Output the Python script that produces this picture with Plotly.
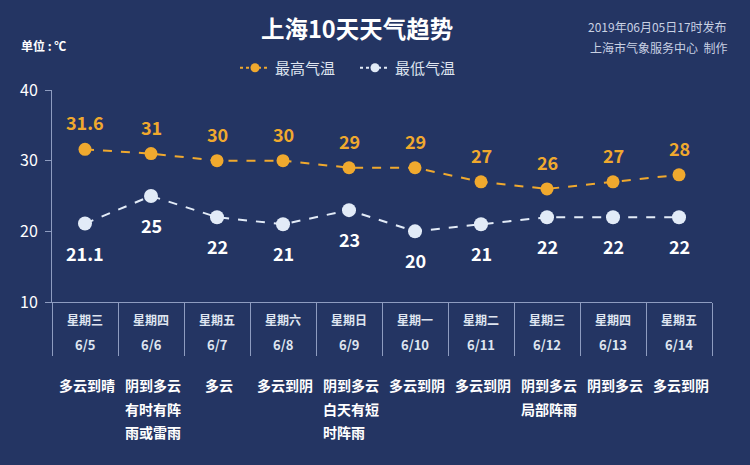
import plotly.graph_objects as go

days = ['星期三', '星期四', '星期五', '星期六', '星期日', '星期一', '星期二', '星期三', '星期四', '星期五']
dates = ['6/5', '6/6', '6/7', '6/8', '6/9', '6/10', '6/11', '6/12', '6/13', '6/14']
weather = ['多云到晴', '阴到多云\n有时有阵\n雨或雷雨', '多云', '多云到阴', '阴到多云\n白天有短\n时阵雨',
           '多云到阴', '多云到阴', '阴到多云\n局部阵雨', '阴到多云', '多云到阴']
high = [31.6, 31, 30, 30, 29, 29, 27, 26, 27, 28]
low = [21.1, 25, 22, 21, 23, 20, 21, 22, 22, 22]
high_lbl = ['31.6', '31', '30', '30', '29', '29', '27', '26', '27', '28']
low_lbl = ['21.1', '25', '22', '21', '23', '20', '21', '22', '22', '22']

BG = '#243563'
ORANGE = '#f0a92e'
PALE = '#e2ebf7'
AXIS = '#8e9cc0'
FONT = 'Noto Sans CJK SC'

# plot area in pixels: x 52..712, y 90..302
def px(xp):
    return (xp - 52) / 660.0

def py(yp):
    return (302 - yp) / 212.0

x = list(range(len(dates)))

fig = go.Figure()
fig.add_trace(go.Scatter(x=x, y=high, name='最高气温', mode='lines+markers', showlegend=False,
                         line=dict(color=ORANGE, width=2, dash='dash'),
                         marker=dict(color=ORANGE, size=13)))
fig.add_trace(go.Scatter(x=x, y=low, name='最低气温', mode='lines+markers', showlegend=False,
                         line=dict(color=PALE, width=2, dash='dash'),
                         marker=dict(color=PALE, size=14)))
# smaller symbols for the legend
for name, col in [('最高气温', ORANGE), ('最低气温', PALE)]:
    fig.add_trace(go.Scatter(x=[None], y=[None], name=name, mode='lines+markers',
                             line=dict(color=col, width=2, dash='dot'),
                             marker=dict(color=col, size=9)))

ann = []
for i in x:
    ann.append(dict(x=i, y=high[i], text='<b>%s</b>' % high_lbl[i], showarrow=False,
                    yshift=27, font=dict(size=18, color=ORANGE)))
    ann.append(dict(x=i, y=low[i], text='<b>%s</b>' % low_lbl[i], showarrow=False,
                    yshift=-29, font=dict(size=18, color='white')))
    ann.append(dict(x=i, y=py(319), yref='paper', yanchor='middle', text='<b>%s</b>' % days[i],
                    showarrow=False, font=dict(size=12, color='#dfe5f0')))
    ann.append(dict(x=i, y=py(344), yref='paper', yanchor='middle', text='<b>%s</b>' % dates[i],
                    showarrow=False, font=dict(size=13, color='#dfe5f0')))
    lines = weather[i].split('\n')
    for k, line in enumerate(lines):
        # lines of a block are left aligned under the first one
        ann.append(dict(x=i, y=py(385 + 23.5 * k), yref='paper', yanchor='middle',
                        xanchor='left', xshift=-len(lines[0]) * 14 / 2,
                        text='<b>%s</b>' % line, showarrow=False,
                        font=dict(size=14, color='white')))

ann.append(dict(x=px(357), y=py(28), xref='paper', yref='paper', yanchor='middle',
                text='<b>上海10天天气趋势</b>', showarrow=False, font=dict(size=23.5, color='white')))
ann.append(dict(x=px(19), y=py(45), xref='paper', yref='paper', xanchor='left', yanchor='middle',
                text='<b>单位 : ℃</b>', showarrow=False, font=dict(size=12, color='white')))
ann.append(dict(x=px(729), y=py(27), xref='paper', yref='paper', xanchor='right', yanchor='middle',
                text='2019年06月05日17时发布', showarrow=False, font=dict(size=12, color='#c9d1e3')))
ann.append(dict(x=px(729), y=py(48), xref='paper', yref='paper', xanchor='right', yanchor='middle',
                text='上海市气象服务中心  制作', showarrow=False, font=dict(size=12, color='#c9d1e3')))

fig.update_layout(
    width=750, height=465,
    paper_bgcolor=BG, plot_bgcolor=BG,
    margin=dict(l=52, r=38, t=90, b=163),
    font=dict(family=FONT, color='white'),
    annotations=ann,
    legend=dict(orientation='h', x=px(355), xanchor='center', y=py(68), yanchor='middle',
                font=dict(size=15, color='#dfe5f0'), bgcolor='rgba(0,0,0,0)',
                itemwidth=30, entrywidth=75),
)
fig.update_xaxes(range=[-0.5, 9.5], tickvals=[i - 0.5 for i in range(11)], showticklabels=False,
                 ticks='outside', ticklen=53, tickcolor=AXIS, tickwidth=1,
                 showline=True, linecolor=AXIS, linewidth=1, showgrid=False, zeroline=False)
fig.update_yaxes(range=[10, 40], tickvals=[10, 20, 30, 40], ticks='outside', ticklen=6,
                 tickcolor=AXIS, showline=True, linecolor=AXIS, linewidth=1, showgrid=False,
                 zeroline=False, tickfont=dict(size=16, color='white'), ticklabelstandoff=4,
                 tickprefix='<b>', ticksuffix='</b>')

fig.write_html("out.html", config={'displayModeBar': False},
               post_script="document.body.style.margin='0';")
